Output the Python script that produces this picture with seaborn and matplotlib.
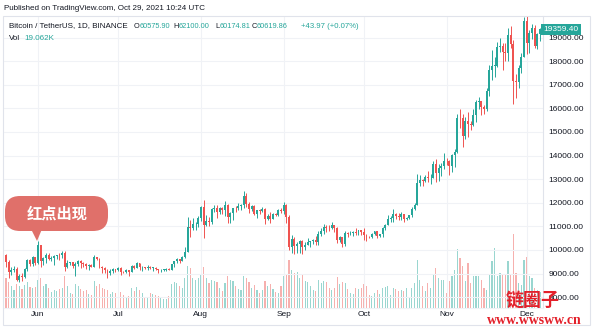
import numpy as np
import pandas as pd
import matplotlib
matplotlib.use("Agg")
import matplotlib.pyplot as plt
from matplotlib.patches import FancyBboxPatch, Polygon
import seaborn as sns

# ---------------- data (BTC/USDT daily, 2020-05-20 .. 2020-12-06) ----------------
start_date = "2020-05-20"
opens = [9773, 9511, 9068, 9170, 9179, 8720, 8900, 8841, 9205, 9575, 9427, 9697,
         9448, 10200, 9518, 9666, 9789, 9621, 9666, 9746, 9782, 9772, 9885, 9281, 9465, 9473, 9342, 9426,
         9526, 9465, 9386, 9310, 9358, 9294, 9685, 9624, 9296, 9249, 9162, 9012, 9117, 9185,
         9138, 9232, 9086, 9058, 9135, 9069, 9342, 9253, 9428, 9277, 9278, 9240, 9276, 9240, 9255, 9197,
         9133, 9154, 9170, 9208, 9160, 9392, 9536, 9610, 9550, 9707, 9934, 10990, 10912, 11100, 11111,
         11352, 11801, 11071, 11219, 11191, 11744, 11762, 11594, 11761, 11681, 11892, 11392, 11565, 11780,
         11760, 11852, 11911, 12281, 11945, 11754, 11866, 11524, 11682, 11649, 11750, 11324, 11461, 11330,
         11527, 11465, 11711,
         11650, 11924, 11388, 10140, 10446, 10166, 10256, 10373, 10126, 10221, 10342, 10391, 10442, 10323,
         10680, 10786, 10954, 10939, 10933, 11080, 10920, 10418, 10535, 10246, 10736, 10686, 10728, 10775,
         10709, 10844,
         10777, 10620, 10570, 10550, 10671, 10792, 10599, 10668, 10925, 11050, 11297, 11370, 11528, 11429,
         11417, 11505, 11319, 11360, 11495, 11742, 11913, 12823, 12965, 12931, 13108, 13031, 13068, 13636,
         13266, 13455, 13560,
         13792, 13761, 13549, 14023, 14144, 15590, 15580, 14833, 15479, 15332, 15290, 15701, 16276, 16317,
         16068, 15955, 16716, 17645, 17804, 17817, 18621, 18642, 18370, 18364, 19107, 18732, 17150, 17139,
         17719, 18185,
         19695, 18765, 19205, 19422, 18650, 19148]
highs = [9840, 9578, 9271, 9307, 9298, 8979, 9018, 9225, 9625, 9605, 9740, 9700,
         10380, 10228, 9690, 9881, 9854, 9735, 9802, 9800, 9877, 9964, 9938, 9557, 9494, 9480, 9490, 9579,
         9560, 9489, 9438, 9395, 9422, 9780, 9720, 9670, 9340, 9298, 9196, 9190, 9232, 9200,
         9300, 9270, 9125, 9190, 9140, 9375, 9360, 9470, 9440, 9315, 9289, 9345, 9340, 9279, 9275, 9215,
         9186, 9200, 9226, 9221, 9425, 9545, 9651, 9637, 9735, 10111, 11415, 11250, 11350, 11170, 11454,
         11863, 12123, 11473, 11417, 11787, 11915, 11906, 11808, 11805, 12067, 11935, 11600, 11800, 11850,
         11980, 11930, 12486, 12400, 12020, 11888, 11888, 11686, 11718, 11840, 11773, 11540, 11590, 11550,
         11580, 11719, 11800,
         12050, 11950, 11478, 10627, 10565, 10355, 10410, 10440, 10350, 10500, 10400, 10481, 10579, 10800,
         10950, 11100, 11040, 11040, 11179, 11080, 10988, 10575, 10550, 10800, 10760, 10800, 10800, 10950,
         10867, 10849,
         10950, 10665, 10600, 10700, 10800, 10800, 10688, 10956, 11100, 11492, 11444, 11720, 11557, 11550,
         11630, 11540, 11400, 11500, 11820, 12000, 13217, 13185, 13027, 13165, 13350, 13240, 13789, 13859,
         13640, 13669, 14100,
         13895, 13830, 14066, 14259, 15750, 15965, 15770, 15650, 15840, 15460, 15965, 16340, 16480, 16317,
         16142, 16880, 17858, 18476, 18179, 18815, 18965, 18750, 18770, 19418, 19484, 18916, 17457, 17853,
         18344, 19863,
         19918, 19308, 19566, 19527, 19177, 19420]
lows = [9282, 8815, 8933, 9070, 8700, 8633, 8700, 8812, 9110, 9330, 9335, 9381,
        9416, 9266, 9365, 9450, 9581, 9531, 9372, 9633, 9570, 9681, 9113, 9236, 9351, 9245, 8900, 9330,
        9257, 9280, 9215, 9170, 9281, 9282, 9577, 9220, 9016, 9045, 8833, 8940, 9017, 9067,
        9094, 8940, 9037, 9040, 8893, 9055, 9200, 9237, 9160, 9112, 9186, 9156, 9200, 9113, 9160, 9005,
        9088, 9121, 9110, 9131, 9152, 9285, 9450, 9430, 9535, 9650, 9920, 10560, 10862, 10831, 10960,
        11220, 10518, 11000, 11012, 11093, 11600, 11356, 11540, 11520, 11450, 11125, 11150, 11257, 11600,
        11680, 11686, 11780, 11812, 11562, 11668, 11485, 11376, 11514, 11595, 11117, 11250, 11138, 11304,
        11425, 11458, 11574,
        11515, 11160, 10000, 9875, 9825, 9882, 9880, 9850, 10015, 10200, 10125, 10266, 10200, 10212,
        10610, 10660, 10745, 10810, 10890, 10761, 10277, 10355, 10136, 10190, 10560, 10650, 10600, 10636,
        10649, 10655,
        10430, 10370, 10500, 10525, 10620, 10520, 10537, 10531, 10830, 11050, 11205, 11200, 11300, 11280,
        11261, 11200, 11255, 11330, 11410, 11680, 11890, 12700, 12720, 12885, 12888, 12800, 13050, 12888,
        12920, 13115, 13420,
        13600, 13195, 13300, 13525, 14090, 15180, 14344, 14700, 14805, 15072, 15270, 15440, 15963, 15715,
        15774, 15870, 16531, 17214, 17335, 17740, 18400, 17610, 18000, 18018, 18565, 16188, 16438, 16876,
        17517, 18185,
        18321, 18330, 18925, 18565, 18500, 18857]
closes = [9511, 9068, 9170, 9179, 8720, 8900, 8841, 9205, 9575, 9427, 9697, 9448,
          10200, 9518, 9666, 9789, 9621, 9666, 9746, 9782, 9772, 9885, 9281, 9465, 9473, 9342, 9426, 9526,
          9465, 9386, 9310, 9358, 9294, 9685, 9624, 9296, 9249, 9162, 9012, 9117, 9185, 9138,
          9232, 9086, 9058, 9135, 9069, 9342, 9253, 9428, 9277, 9278, 9240, 9276, 9240, 9255, 9197, 9133,
          9154, 9170, 9208, 9160, 9392, 9536, 9610, 9550, 9707, 9934, 10990, 10912, 11100, 11111, 11352,
          11801, 11071, 11219, 11191, 11744, 11762, 11594, 11761, 11681, 11892, 11392, 11565, 11780, 11760,
          11852, 11911, 12281, 11945, 11754, 11866, 11524, 11682, 11649, 11750, 11324, 11461, 11330, 11527,
          11465, 11711, 11650,
          11924, 11388, 10140, 10446, 10166, 10256, 10373, 10126, 10221, 10342, 10391, 10442, 10323, 10680,
          10786, 10954, 10939, 10933, 11080, 10920, 10418, 10535, 10246, 10736, 10686, 10728, 10775, 10709,
          10844, 10777,
          10620, 10570, 10550, 10671, 10792, 10599, 10668, 10925, 11050, 11297, 11370, 11528, 11429, 11417,
          11505, 11319, 11360, 11495, 11742, 11913, 12823, 12965, 12931, 13108, 13031, 13068, 13636, 13266,
          13455, 13560, 13792,
          13761, 13549, 14023, 14144, 15590, 15580, 14833, 15479, 15332, 15290, 15701, 16276, 16317, 16068,
          15955, 16716, 17645, 17804, 17817, 18621, 18642, 18370, 18364, 19107, 18732, 17150, 17139, 17719,
          18185, 19695,
          18765, 19205, 19422, 18650, 19148, 19359.40]
volumes_k = [75, 65, 55, 45, 60, 55, 48, 58, 65, 53, 50, 53,
             70, 75, 55, 60, 50, 40, 45, 43, 48, 50, 80, 55, 38, 35, 60, 55, 48, 43, 45, 35, 33, 68, 55,
             60, 50, 48, 45, 35, 40, 38,
             43, 40, 33, 28, 30, 50, 43, 53, 45, 38, 25, 28, 38, 35, 33, 30, 25, 23, 23, 30, 60, 65, 63,
             55, 50, 75, 105, 100, 75, 70, 75,
             85, 103, 75, 63, 70, 68, 65, 50, 43, 63, 80, 70, 68, 55, 48, 45, 80, 75, 65, 50, 58, 45, 38,
             45, 68, 55, 60, 48, 40, 38, 55,
             80, 83, 120, 95, 88, 90, 75, 83, 68, 65, 55, 45, 43, 70, 63, 68, 65, 50, 45, 50, 78, 60, 65,
             63, 48, 38, 35, 50, 48, 50,
             60, 55, 33, 30, 38, 45, 35, 50, 53, 55, 33, 50, 48, 43, 45, 43, 50, 25, 50, 63, 120, 70, 55,
             42, 63, 50, 83, 100, 75, 70, 70,
             38, 68, 80, 95, 148, 125, 105, 68, 113, 63, 80, 80, 80, 70, 50, 45, 83, 118, 150, 80, 88, 85,
             85, 118, 85, 185, 88, 63, 58, 120,
             128, 80, 75, 50, 45, 40]
month_labels = ["Jun", "Jul", "Aug", "Sep", "Oct", "Nov", "Dec"]
month_starts = ["2020-06-01", "2020-07-01", "2020-08-01", "2020-09-01",
                "2020-10-01", "2020-11-01", "2020-12-01"]
price_ticks = [8000, 9000, 10000, 11000, 12000, 13000, 14000, 15000, 16000, 17000, 18000, 19000]
last_price = 19359.40

dates = pd.date_range(start_date, periods=len(closes), freq="D")
df = pd.DataFrame({"date": dates, "open": opens, "high": highs, "low": lows,
                   "close": closes, "vol": volumes_k})
df["idx"] = np.arange(len(df))
df["dir"] = np.where(df["close"] >= df["open"], "up", "down")
month_idx = [int((pd.Timestamp(m) - dates[0]).days) for m in month_starts]

# ---------------- style ----------------
sns.set_style("white")
plt.rcParams["font.family"] = ["Liberation Sans", "DejaVu Sans"]
UP, DOWN = "#26a69a", "#ef5350"
UP_V, DOWN_V = "#9ad6d0", "#f6b0ae"
TXT = "#131722"
GRID = "#f0f2f6"
BORDER = "#e0e3eb"

W, H = 595, 330
fig = plt.figure(figsize=(W / 100, H / 100), dpi=100)

def rect(x0, y0, x1, y1):
    return [x0 / W, 1 - y1 / H, (x1 - x0) / W, (y1 - y0) / H]

R = rect(4, 16, 543, 308)
axv = fig.add_axes(R)
ax = fig.add_axes(R, facecolor="none")

xlim = (-0.75, 201.1)
ylim = (7542, 19915)

# volume
sns.barplot(data=df, x="idx", y="vol", hue="dir", palette={"up": UP_V, "down": DOWN_V},
            dodge=False, native_scale=True, width=0.42, errorbar=None, legend=False,
            ax=axv, linewidth=0, saturation=1)
axv.set_xlim(*xlim)
axv.set_ylim(0, max(volumes_k) * 292 / 74)
axv.axis("off")

# grid
for y in price_ticks:
    ax.axhline(y, color=GRID, lw=0.8, zorder=0)
for m in month_idx:
    ax.axvline(m, color=GRID, lw=0.8, zorder=0)

# candles
colors = np.where(df["dir"] == "up", UP, DOWN)
ax.vlines(df["idx"], df["low"], df["high"], colors=colors, lw=0.7, zorder=2)
body_lo = np.minimum(df["open"], df["close"])
body_h = np.maximum(np.abs(df["close"] - df["open"]), 20)
ax.bar(df["idx"], body_h, bottom=body_lo, width=0.72, color=colors, linewidth=0, zorder=3)

ax.set_xlim(*xlim)
ax.set_ylim(*ylim)
ax.yaxis.tick_right()
ax.set_yticks(price_ticks)
ax.set_yticklabels([f"{v:.2f}" for v in price_ticks])
ax.set_xticks(month_idx)
ax.set_xticklabels(month_labels)
ax.tick_params(axis="both", length=0, labelsize=6, colors=TXT)
ax.tick_params(axis="y", pad=4)
ax.tick_params(axis="x", pad=2.5)
for s in ax.spines.values():
    s.set_visible(False)
ax.spines["right"].set_visible(True)
ax.spines["right"].set_color(BORDER)
ax.spines["right"].set_linewidth(0.8)
ax.spines["bottom"].set_visible(True)
ax.spines["bottom"].set_color(GRID)
ax.spines["bottom"].set_linewidth(0.8)

# last price label
ax.text(1.001, last_price, f"{last_price:.2f}", transform=ax.get_yaxis_transform(),
        ha="left", va="center", fontsize=6, color="white", zorder=10, clip_on=False,
        bbox=dict(boxstyle="square,pad=0.25", fc=UP, ec="none"))

# ---------------- overlay in pixel coordinates ----------------
ov = fig.add_axes([0, 0, 1, 1], facecolor="none")
ov.set_xlim(0, W)
ov.set_ylim(H, 0)
ov.axis("off")

# frame
ov.add_patch(plt.Rectangle((3, 16), 587, 309, fill=False, ec=BORDER, lw=0.8))

ov.text(4, 8, "Published on TradingView.com, Oct 29, 2021 10:24 UTC", fontsize=5.8,
        color=TXT, va="center", ha="left")
ov.text(9, 26, "Bitcoin / TetherUS, 1D, BINANCE", fontsize=5.8, color=TXT, va="center")
for lab, val, x, xv in [("O", "60575.90", 134, 139.5), ("H", "62100.00", 173.5, 178.5),
                        ("L", "60174.81", 215, 219.5), ("C", "60619.86", 251.5, 256.5)]:
    ov.text(x, 26, lab, fontsize=5.3, color=TXT, va="center")
    ov.text(xv, 26, val, fontsize=5.3, color=UP, va="center")
ov.text(301, 26, "+43.97 (+0.07%)", fontsize=5.6, color=UP, va="center")
ov.text(9, 38, "Vol", fontsize=5.8, color=TXT, va="center")
ov.text(24, 38, "19.062K", fontsize=5.8, color=UP, va="center")

# red bubble annotation
BUB = "#e0706a"
ov.add_patch(FancyBboxPatch((5, 196), 103, 35, boxstyle="round,pad=0,rounding_size=15",
                            fc=BUB, ec="none", zorder=5))
ov.add_patch(Polygon([(31, 229), (42, 229), (37, 241)], closed=True, fc=BUB, ec="none", zorder=5))
ov.text(57, 214, "红点出现", fontsize=11, fontweight="bold", color="white", ha="center",
        va="center", family=["Noto Sans CJK SC", "DejaVu Sans"], zorder=6)

# watermark
ov.text(533, 300, "链圈子", fontsize=13, fontweight="bold", color="#e3202a", ha="center",
        va="center", family=["Noto Sans CJK SC", "DejaVu Sans"], zorder=7)
ov.text(534, 320, "www.wwsww.cn", fontsize=10, fontweight="bold", color="#e3202a", ha="center",
        va="center", family=["Liberation Serif", "DejaVu Serif"], zorder=7)

fig.savefig("out.png", dpi=100)
